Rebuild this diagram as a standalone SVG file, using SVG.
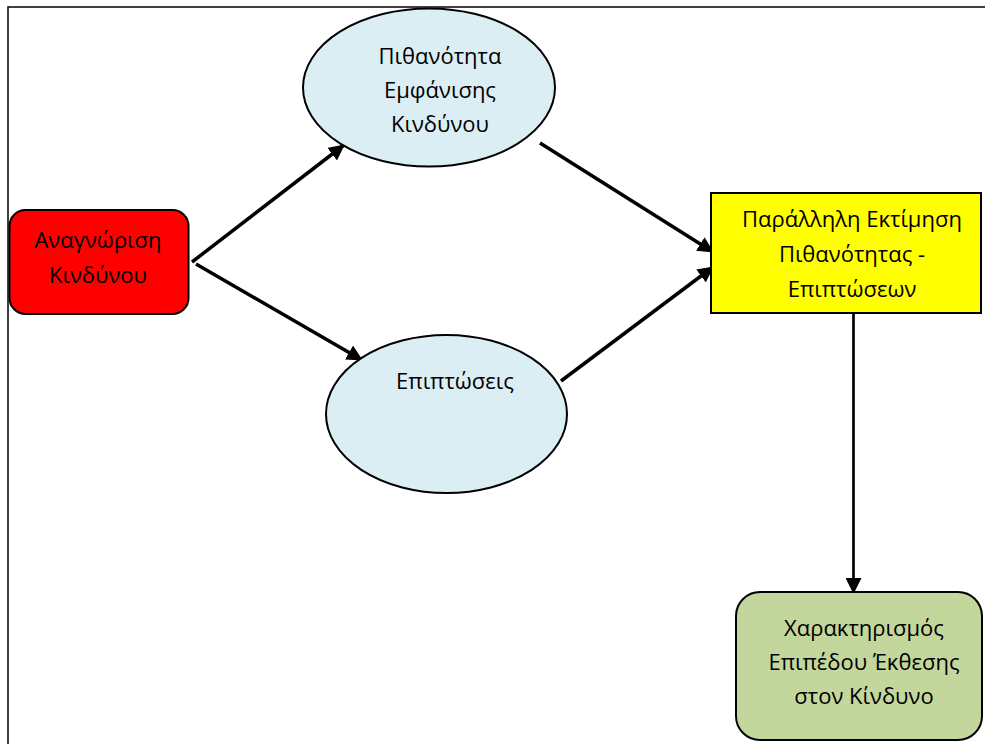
<svg xmlns="http://www.w3.org/2000/svg" width="985" height="744" viewBox="0 0 985 744">
  <defs>
    <marker id="arrow" markerUnits="userSpaceOnUse" markerWidth="16" markerHeight="16" viewBox="0 0 16 16" refX="15" refY="8" orient="auto">
      <path d="M0,0 L16,8 L0,16 Z" fill="#000"/>
    </marker>
  </defs>
  <style>
    .frame { fill: none; stroke: #111; stroke-width: 1.6; }
    .node { stroke: #000; stroke-width: 2; }
    .label { font-family: "Open Sans", "Noto Sans", "DejaVu Sans", sans-serif; font-size: 22px; fill: #000; text-anchor: middle; }
    .edge { fill: none; stroke: #000; stroke-width: 3.5; marker-end: url(#arrow); }
    .edge-v { fill: none; stroke: #000; stroke-width: 2.7; marker-end: url(#arrow); }
  </style>

  <rect width="985" height="744" fill="#fff"/>
  <!-- page frame -->
  <rect class="frame" x="8" y="7" width="1000" height="760"/>

  <g id="edges">
    <line class="edge" x1="192" y1="262" x2="344" y2="145"/>
    <line class="edge" x1="196" y1="264" x2="362" y2="360"/>
    <line class="edge" x1="540" y1="143" x2="713" y2="252"/>
    <line class="edge" x1="561" y1="381" x2="713" y2="267"/>
    <line class="edge-v" x1="853.5" y1="313" x2="853.5" y2="593"/>
  </g>

  <g id="node-recognition">
    <rect class="node" x="9.5" y="210" width="179" height="104" rx="16" fill="#ff0000"/>
    <text class="label" x="98" y="248">Αναγνώριση</text>
    <text class="label" x="98" y="283">Κινδύνου</text>
  </g>

  <g id="node-probability">
    <ellipse class="node" cx="429" cy="87.5" rx="126" ry="79" fill="#daeef3"/>
    <text class="label" x="440" y="64">Πιθανότητα</text>
    <text class="label" x="440" y="98">Εμφάνισης</text>
    <text class="label" x="440" y="132">Κινδύνου</text>
  </g>

  <g id="node-impacts">
    <ellipse class="node" cx="446.5" cy="414" rx="120.5" ry="79" fill="#daeef3"/>
    <text class="label" x="455" y="389">Επιπτώσεις</text>
  </g>

  <g id="node-assessment">
    <rect class="node" x="711" y="193" width="270" height="120" fill="#ffff00" stroke-width="2.4"/>
    <text class="label" x="852" y="227">Παράλληλη Εκτίμηση</text>
    <text class="label" x="852" y="262">Πιθανότητας -</text>
    <text class="label" x="852" y="297">Επιπτώσεων</text>
  </g>

  <g id="node-exposure">
    <rect class="node" x="736" y="592" width="246" height="148" rx="24" fill="#c3d69b"/>
    <text class="label" x="864" y="636">Χαρακτηρισμός</text>
    <text class="label" x="864" y="670">Επιπέδου Έκθεσης</text>
    <text class="label" x="864" y="704">στον Κίνδυνο</text>
  </g>
</svg>
